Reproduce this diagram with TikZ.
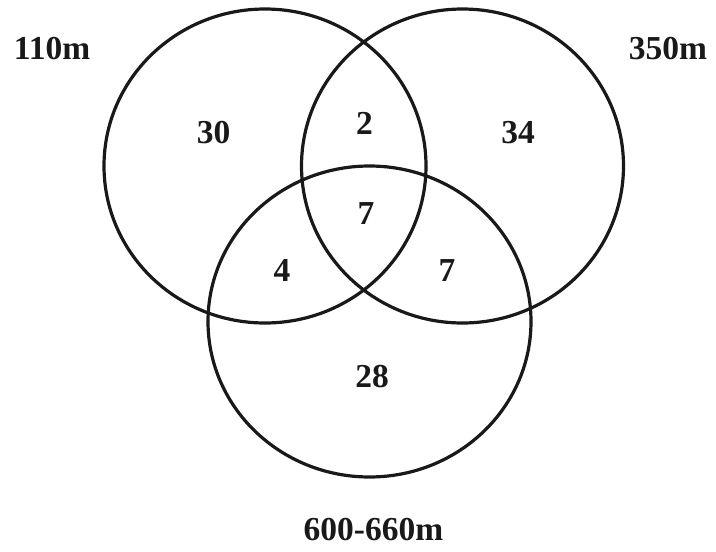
\documentclass[tikz,border=0pt]{standalone}
\usepackage{fontspec}
\setmainfont{Liberation Serif}
\begin{document}
\begin{tikzpicture}[x=1pt,y=-1pt,
    ring/.style={line width=3.2pt, draw=black!90},
    lbl/.style={font=\bfseries\fontsize{33.5}{40}\selectfont, text=black!90, inner sep=0pt, anchor=base}]
  \useasboundingbox (0,0) rectangle (716,552);
  % centres of the three depth sets
  \coordinate (c1) at (265,166);
  \coordinate (c2) at (462.5,166);
  \coordinate (c3) at (369.5,321.5);
  \draw[ring] (c1) ellipse [x radius=161pt, y radius=157pt];
  \draw[ring] (c2) ellipse [x radius=161pt, y radius=157pt];
  \draw[ring] (c3) ellipse [x radius=161.5pt, y radius=155.5pt];
  % set names
  \node[lbl] (n110) at (52,59) {110m};
  \node[lbl] (n350) at (668,59) {350m};
  \node[lbl] (n600) at (373.5,540) {600-660m};
  % region counts
  \node[lbl] (a) at (213.5,143) {30};
  \node[lbl] (ab) at (364.5,134) {2};
  \node[lbl] (b) at (518,143) {34};
  \node[lbl] (abc) at (366,224) {7};
  \node[lbl] (ac) at (282,281) {4};
  \node[lbl] (bc) at (447,281) {7};
  \node[lbl] (c) at (372,387) {28};
\end{tikzpicture}
\end{document}
